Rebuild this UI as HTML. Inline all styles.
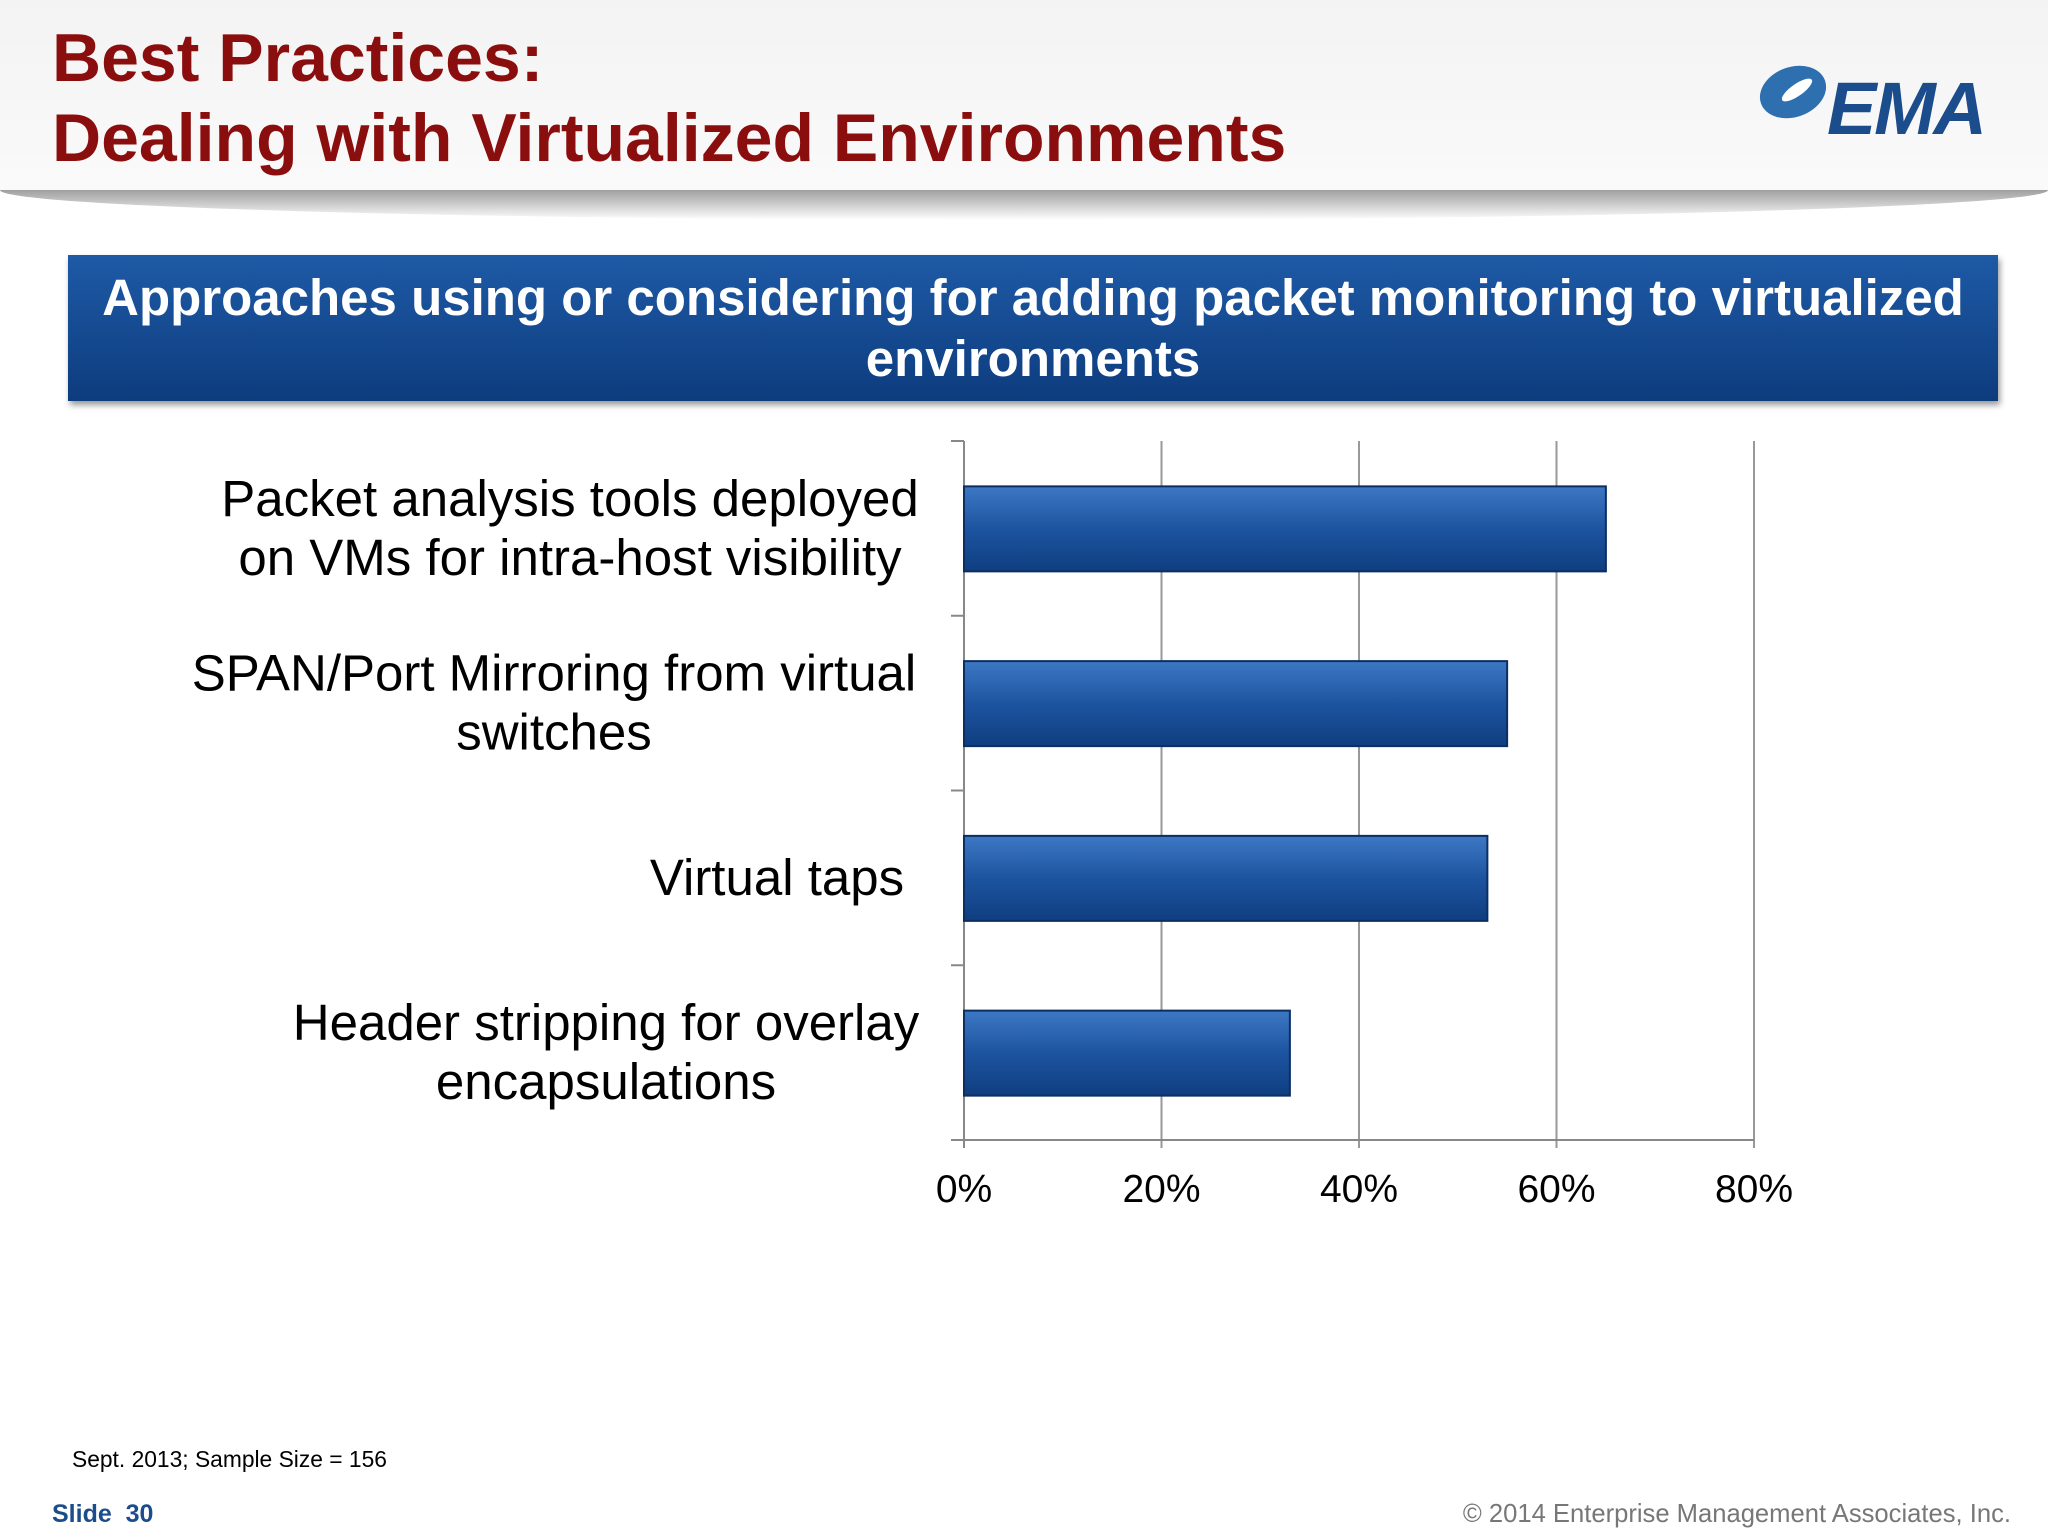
<!DOCTYPE html>
<html><head><meta charset="utf-8"><style>
body{margin:0;width:2048px;height:1536px;overflow:hidden;background:#fff;font-family:"Liberation Sans",Arial,sans-serif;position:relative}
.abs{position:absolute}
</style></head><body>
<div class="abs" style="left:0;top:0;width:2048px;height:192px;background:linear-gradient(#f3f3f3,#fafafa)"></div>
<div class="abs" style="left:0;top:190px;width:2048px;height:30px;background:linear-gradient(#888,#fff);border-radius:0 0 50% 50%/0 0 100% 100%;opacity:.8"></div>
<div class="abs" style="left:52px;top:18px;color:#8b0e0e;font-weight:bold;font-size:68px;line-height:80px">Best Practices:<br>Dealing with Virtualized Environments</div>
<div class="abs" style="left:1757px;top:60px;width:232px;height:80px">
<svg width="232" height="80"><ellipse cx="36" cy="32" rx="34" ry="25" fill="#2e6fb0" transform="rotate(-20 36 32)"/><ellipse cx="40" cy="30" rx="18" ry="6" fill="#fff" transform="rotate(-35 40 30)"/>
<text x="70" y="74" font-family="Liberation Sans" font-weight="bold" font-style="italic" font-size="74" fill="#1b4c8c" textLength="160">EMA</text></svg></div>
<div class="abs" style="left:68px;top:255px;width:1930px;height:146px;background:linear-gradient(#1e5aa6,#0d3c7e);box-shadow:2px 4px 6px #999;color:#fff;font-weight:bold;font-size:51px;line-height:61px;text-align:center;padding-top:12px;box-sizing:border-box">Approaches using or considering for adding packet monitoring to virtualized<br>environments</div>
<svg class="abs" style="left:0;top:0" width="2048" height="1536">
<defs><linearGradient id="bg" x1="0" y1="0" x2="0" y2="1"><stop offset="0" stop-color="#3d78c4"/><stop offset="0.5" stop-color="#1d54a0"/><stop offset="1" stop-color="#0f3e80"/></linearGradient></defs>
<g id="g"></g></svg>
<div class="abs" style="left:72px;top:1446px;font-size:22.8px">Sept. 2013; Sample Size = 156</div>
<div class="abs" style="left:52px;top:1500px;font-size:25px;font-weight:bold;color:#1b4c8c">Slide&nbsp; 30</div>
<div class="abs" style="right:37px;top:1500px;font-size:25.6px;color:#777">© 2014 Enterprise Management Associates, Inc.</div>
<script>
const categories=[["Packet analysis tools deployed","on VMs for intra-host visibility"],["SPAN/Port Mirroring from virtual","switches"],["Virtual taps"],["Header stripping for overlay","encapsulations"]];
const values=[65,55,53,33];
const ticks=[0,20,40,60,80];
const tickLabels=["0%","20%","40%","60%","80%"];
(function(){
const g=document.getElementById('g');const NS='http://www.w3.org/2000/svg';
const x0=964,xPer=197.5/20,yTop=441,yBot=1140,band=(yBot-yTop)/categories.length;
const X=v=>x0+v*xPer;
function mk(t,a){const e=document.createElementNS(NS,t);for(const k in a)e.setAttribute(k,a[k]);g.appendChild(e);return e;}
ticks.forEach((t,i)=>{const l=mk('line',{x1:X(t),x2:X(t),y1:yTop,y2:yBot+8,stroke:i?'#999':'#888','stroke-width':2});


const tx=mk('text',{x:X(t),y:1202,'text-anchor':'middle','font-size':39,'font-family':'Liberation Sans'});tx.textContent=tickLabels[i];

});
const ax=mk('line',{x1:x0,x2:X(80),y1:yBot,y2:yBot,stroke:'#888','stroke-width':2});


for(let i=0;i<=categories.length;i++){const t=mk('line',{x1:951,x2:x0,y1:yTop+i*band,y2:yTop+i*band,stroke:'#888','stroke-width':2});

}
const cxs=[570,554,777,606];
categories.forEach((c,i)=>{const cy=yTop+band*(i+0.5);
const r=mk('rect',{x:x0,y:cy-42,width:X(values[i])-x0,height:85,fill:'url(#bg)',stroke:'#0b2f63','stroke-width':2});


const n=c.length;
c.forEach((line,j)=>{const tx=mk('text',{x:cxs[i],y:cy+(j-(n-1)/2)*59+17,'text-anchor':'middle','font-size':51,'font-family':'Liberation Sans'});tx.textContent=line;

});});
})();
</script>
</body></html>
